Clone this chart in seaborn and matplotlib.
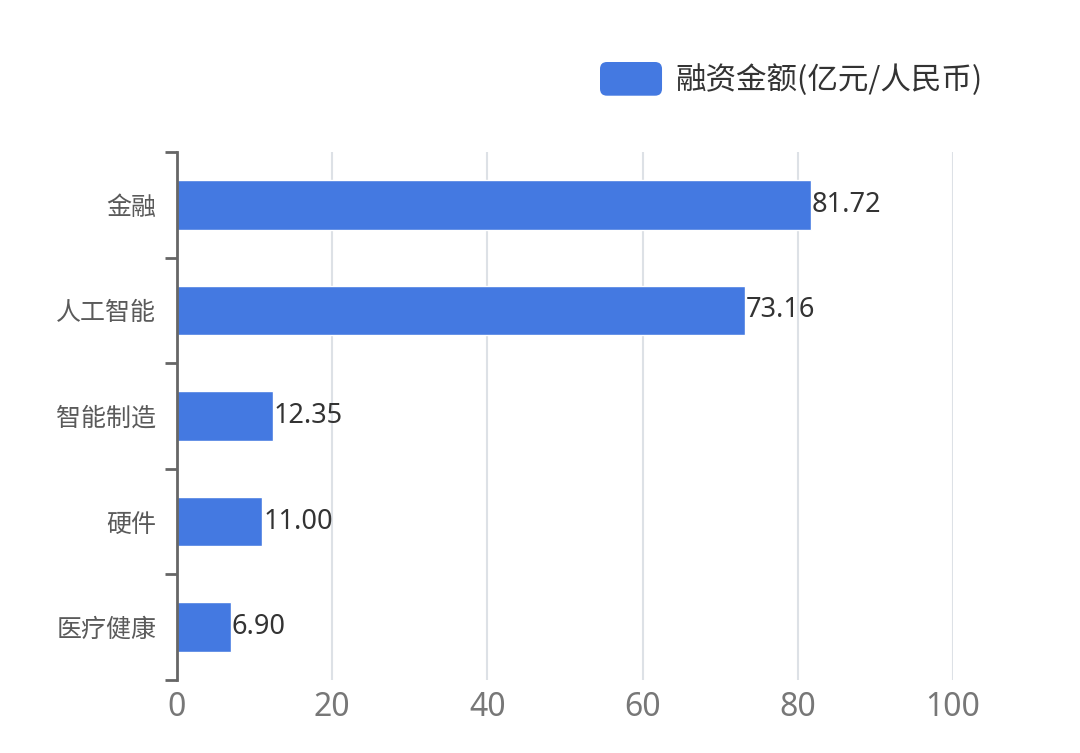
import pandas as pd
import seaborn as sns
import matplotlib.pyplot as plt
from matplotlib.patches import FancyBboxPatch
from matplotlib.legend_handler import HandlerPatch

# data
categories = ["金融", "人工智能", "智能制造", "硬件", "医疗健康"]
amounts = [81.72, 73.16, 12.35, 11.00, 6.90]
series_name = "融资金额(亿元/人民币)"
x_ticks = [0, 20, 40, 60, 80, 100]

BAR_COLOR = "#4479e1"

sns.set_theme(style="white")
plt.rcParams['font.family'] = ['Noto Sans CJK SC', 'DejaVu Sans']


class RoundedHandler(HandlerPatch):
    # legend swatch with rounded corners
    def create_artists(self, legend, orig_handle, xdescent, ydescent,
                       width, height, fontsize, trans):
        p = FancyBboxPatch((-xdescent, -ydescent), width, height,
                           boxstyle="round,pad=0,rounding_size=5",
                           facecolor=BAR_COLOR, edgecolor="none",
                           transform=trans)
        return [p]


df = pd.DataFrame({"category": categories, "amount": amounts})

fig = plt.figure(figsize=(10.8, 7.53), dpi=100)
ax = fig.add_axes([0.1639, 0.0969, 0.7185, 0.7012])

sns.barplot(data=df, x="amount", y="category", orient="h",
            color=BAR_COLOR, saturation=1, width=0.47,
            label=series_name, ax=ax)

ax.bar_label(ax.containers[0], fmt="%.2f", padding=0.5,
             fontsize=19.5, color="#333333", family=["Noto Sans", "DejaVu Sans"])

ax.set_xlim(0, 100)
ax.set_xticks(x_ticks)
ax.set_ylim(len(categories) - 0.5, -0.5)
ax.set_xlabel("")
ax.set_ylabel("")

# grid
ax.xaxis.grid(True, color="#dde1e6", linewidth=1.5)
ax.set_axisbelow(True)

for s in ["top", "right", "bottom"]:
    ax.spines[s].set_visible(False)
ax.spines["left"].set_color("#666666")
ax.spines["left"].set_linewidth(2)

ax.tick_params(axis="x", length=0, labelsize=23, labelcolor="#777777", pad=8)
for lbl in ax.get_xticklabels():
    lbl.set_family(["Noto Sans", "DejaVu Sans"])
ax.tick_params(axis="y", which="major", length=0, labelsize=18,
               labelcolor="#5a5a5a", pad=15)
ax.set_yticks([i - 0.5 for i in range(len(categories) + 1)], minor=True)
ax.tick_params(axis="y", which="minor", length=9, width=2, color="#666666",
               left=True)

handles, labels = ax.get_legend_handles_labels()
leg = ax.legend(handles, labels, loc="upper left",
                bbox_to_anchor=(600 / 1080, 1 - 62 / 753),
                bbox_transform=fig.transFigure, borderaxespad=0, borderpad=0,
                frameon=False, fontsize=22, handlelength=2.03,
                handleheight=1.32, handletextpad=0.45,
                handler_map={type(h): RoundedHandler() for h in handles})
for t in leg.get_texts():
    t.set_color("#333333")

fig.savefig("out.png", dpi=100, facecolor="white")
